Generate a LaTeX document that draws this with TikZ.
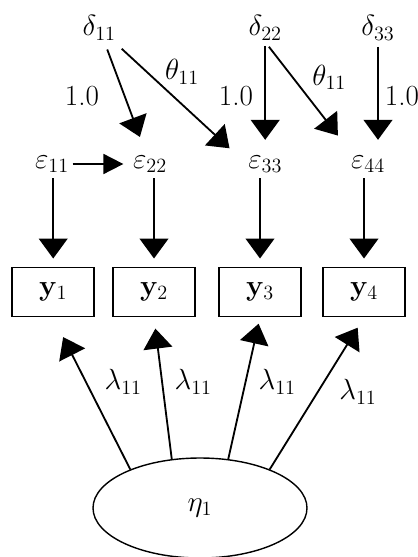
\documentclass[tikz,border=0pt]{standalone}
\usepackage{tikz}
\usetikzlibrary{arrows.meta, shapes.geometric}
\DeclareMathSizes{20.74}{20.74}{15}{10}
\tikzset{
    Symbol/.style={inner sep=1pt, font=\huge},
    Indicator/.style={
        draw,
        line width=1.4pt,
        minimum width=2.05cm,
        minimum height=1.225cm,
        inner sep=0pt,
        font=\huge
    },
    Latent/.style={
        draw,
        ellipse,
        line width=1pt,
        minimum width=5.35cm,
        minimum height=2.5cm,
        font=\huge
    },
    Path/.style={line width=1.3pt, -{Triangle[length=0.5cm, width=0.72cm]}},
    SmallPath/.style={line width=1.3pt, -{Triangle[length=0.5cm, width=0.5cm]}}
}

\begin{document}
\begin{tikzpicture}
\useasboundingbox (0,0) rectangle (10.425,-13.925);

\node[Symbol] (d11) at (2.48,-0.70) {$\delta_{11}$};
\node[Symbol] (d22) at (6.63,-0.70) {$\delta_{22}$};
\node[Symbol] (d33) at (9.45,-0.70) {$\delta_{33}$};

\node[Symbol] (e11) at (1.30,-4.10) {$\varepsilon_{11}$};
\node[Symbol] (e22) at (3.75,-4.10) {$\varepsilon_{22}$};
\node[Symbol] (e33) at (6.63,-4.10) {$\varepsilon_{33}$};
\node[Symbol] (e44) at (9.20,-4.10) {$\varepsilon_{44}$};

\node[Indicator] (y1) at (1.33,-7.30) {\textbf{y}$_1$};
\node[Indicator] (y2) at (3.85,-7.30) {\textbf{y}$_2$};
\node[Indicator] (y3) at (6.50,-7.30) {\textbf{y}$_3$};
\node[Indicator] (y4) at (9.10,-7.30) {\textbf{y}$_4$};

\node[Latent] (eta) at (5.00,-12.70) {$\eta_1$};

\node[Symbol] (w1) at (2.05,-2.40) {1.0};
\node[Symbol] (w2) at (5.90,-2.40) {1.0};
\node[Symbol] (w3) at (10.05,-2.40) {1.0};
\node[Symbol] (t1) at (4.55,-1.80) {$\theta_{11}$};
\node[Symbol] (t2) at (8.23,-1.93) {$\theta_{11}$};

\node[Symbol] (l1) at (3.08,-9.55) {$\lambda_{11}$};
\node[Symbol] (l2) at (4.83,-9.55) {$\lambda_{11}$};
\node[Symbol] (l3) at (6.93,-9.55) {$\lambda_{11}$};
\node[Symbol] (l4) at (8.95,-9.80) {$\lambda_{11}$};

\draw[SmallPath, shorten <=0.05cm, shorten >=0.2cm] (e11) -- (e22);
\draw[Path, shorten <=0.2cm, shorten >=0.45cm] (d11) -- (e22);
\draw[Path, shorten <=0.25cm, shorten >=0.58cm] (d11) -- (e33.west);
\draw[Path, shorten <=0.1cm, shorten >=0.35cm] (d22) -- (e33);
\draw[Path, shorten <=0.15cm, shorten >=0.9cm] (d22.south) -- ([xshift=-0.2cm]e44.center);
\draw[Path, shorten <=0.12cm, shorten >=0.35cm] (d33.south) -- (d33.south |- e44.north);

\draw[Path, shorten <=0.1cm, shorten >=0.2cm] (y1.north |- e11.south) -- (y1.north);
\draw[Path, shorten <=0.1cm, shorten >=0.2cm] (y2.north |- e22.south) -- (y2.north);
\draw[Path, shorten <=0.1cm, shorten >=0.2cm] (y3.north |- e33.south) -- (y3.north);
\draw[Path, shorten <=0.1cm, shorten >=0.2cm] (y4.north |- e44.south) -- (y4.north);

\draw[Path, shorten >=0.55cm] (eta.151) -- (y1.south);
\draw[Path, shorten >=0.28cm] (eta.120) -- (y2.south);
\draw[Path, shorten >=0.16cm] (eta.60) -- (y3.south);
\draw[Path, shorten >=0.3cm] (eta.29) -- (y4.south);
\end{tikzpicture}
\end{document}
